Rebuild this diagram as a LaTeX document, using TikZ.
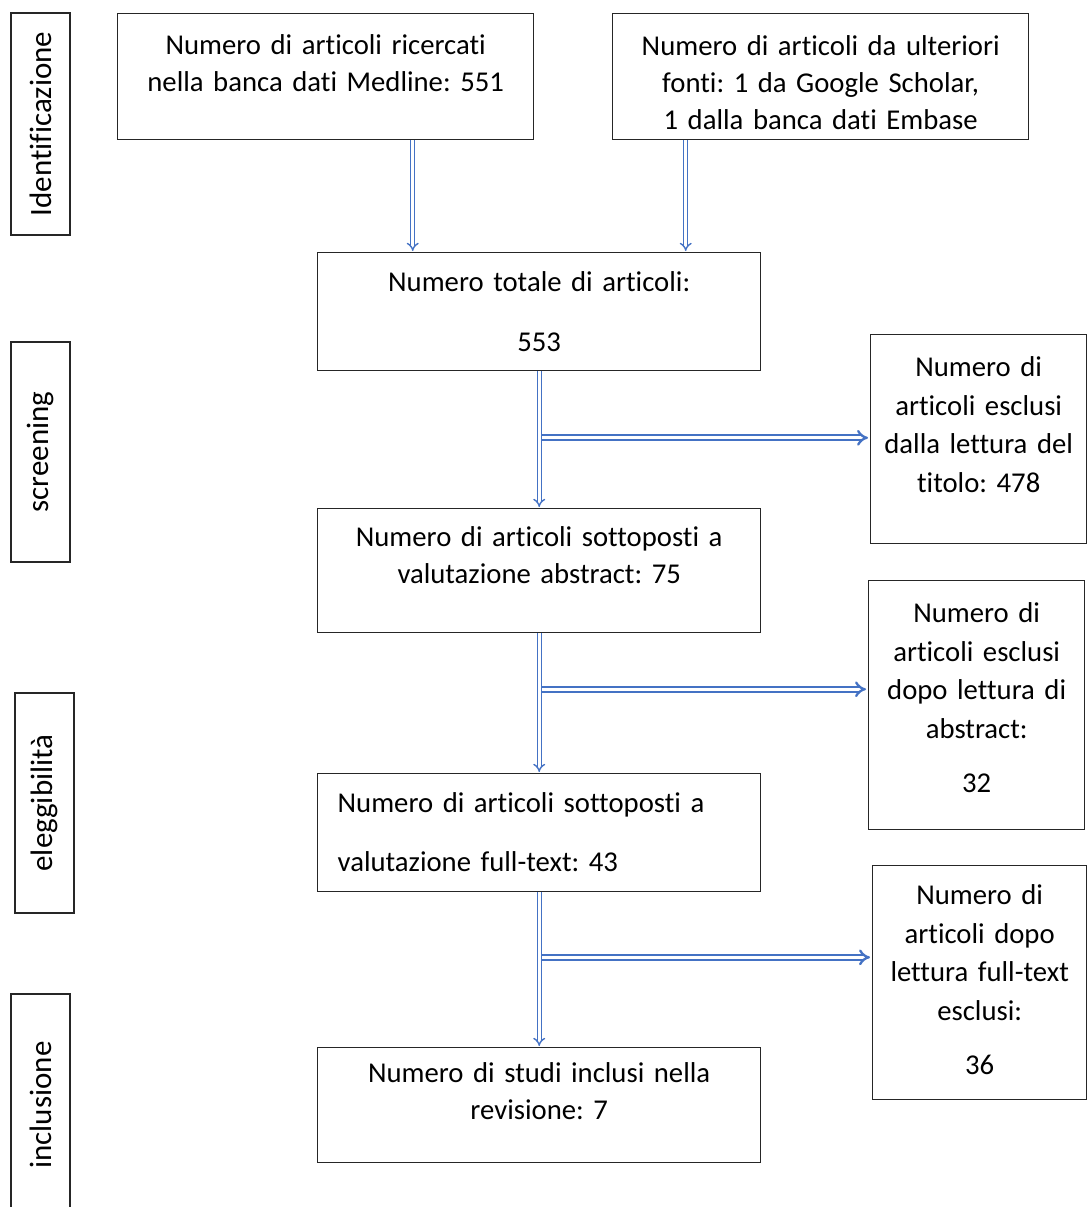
\documentclass[tikz,border=0pt]{standalone}
\usepackage{fontspec}
\setmainfont{Carlito}[Ligatures=CommonOff]
\frenchspacing
\usetikzlibrary{arrows.meta,calc,positioning}
\definecolor{ink}{HTML}{000000}
\definecolor{frame}{HTML}{262626}
\definecolor{arrowblue}{HTML}{4472C4}
\newcommand{\boxfont}{\fontsize{28.7}{37}\selectfont}
\newcommand{\sidefont}{\fontsize{28.7}{38.5}\selectfont}
\newcommand{\phasefont}{\fontsize{31}{36}\selectfont}
\tikzset{
 every node/.append style={font=\boxfont,text=ink,align=center},
 box/.style={draw=frame,line width=1.4pt,inner xsep=6pt,inner ysep=0pt,anchor=north west},
 side/.style={box,font=\sidefont},
 phase/.style={draw=frame,line width=1.2pt,inner sep=0pt,minimum height=59pt,rotate=90,font=\phasefont},
 flow/.style={draw=arrowblue,line width=1.4pt,double=white,double distance=2.6pt,-{Implies[length=5pt,width=12pt]},shorten >=1pt},
 exclude/.style={draw=arrowblue,line width=2.3pt,double=white,double distance=2.8pt,-{Implies[length=5pt,width=14pt]},shorten >=2pt},
}

\begin{document}
\begin{tikzpicture}[x=1pt,y=-1pt]
\useasboundingbox (0,0) rectangle (1088,1207);

% fasi
\node[phase,minimum width=222pt] (fid) at (40.5,124) {Identificazione};
\node[phase,minimum width=220pt] (fscr) at (40.5,452) {screening};
\node[phase,minimum width=220pt] (fel) at (44.5,803) {eleggibilità};
\node[phase,minimum width=222pt] (finc) at (40.5,1105) {inclusione};

% colonna centrale
\node[box,text width=404pt,text height=41pt,text depth=85pt] (medline) at (117,13)
  {Numero di articoli ricercati\\nella banca dati Medline: 551};
\node[box,text width=404pt,text height=42pt,text depth=84pt] (fonti) at (612,13)
  {Numero di articoli da ulteriori\\fonti: 1 da Google Scholar,\\1 dalla banca dati Embase};
\node[box,text width=431pt,text height=39pt,text depth=79pt] (totale) at (317,252)
  {Numero totale di articoli:\\[23pt]553};
\node[box,text width=431pt,text height=38pt,text depth=86pt] (abstract) at (317,508)
  {Numero di articoli sottoposti a\\valutazione abstract: 75};
\node[box,align=left,inner xsep=20pt,text width=403pt,text height=39pt,text depth=79pt] (fulltext) at (317,773)
  {Numero di articoli sottoposti a\\[22pt]valutazione full-text: 43};
\node[box,text width=431pt,text height=35pt,text depth=80pt] (inclusi) at (317,1047)
  {Numero di studi inclusi nella\\revisione: 7};

% esclusi
\node[side,text width=204pt,text height=42pt,text depth=167pt] (extitolo) at (870,334)
  {Numero di\\articoli esclusi\\dalla lettura del\\titolo: 478};
\node[side,text width=204pt,text height=42pt,text depth=207pt] (exabstract) at (868,580)
  {Numero di\\articoli esclusi\\dopo lettura di\\abstract:\\[16pt]32};
\node[side,text width=202pt,text height=39pt,text depth=195pt] (exfull) at (872,865)
  {Numero di\\articoli dopo\\lettura full-text\\esclusi:\\[16pt]36};

% frecce
\draw[flow] ([xshift=87pt]medline.south) -- ([xshift=87pt]medline.south |- totale.north);
\draw[flow] ([xshift=-135pt]fonti.south) -- ([xshift=-135pt]fonti.south |- totale.north);
\draw[flow] (totale.south) -- coordinate[pos=.486] (j1) (abstract.north);
\draw[flow] (abstract.south) -- coordinate[pos=.40] (j2) (fulltext.north);
\draw[flow] (fulltext.south) -- coordinate[pos=.42] (j3) (inclusi.north);
\draw[exclude] ([xshift=3pt]j1) -- (extitolo.west |- j1);
\draw[exclude] ([xshift=3pt]j2) -- (exabstract.west |- j2);
\draw[exclude] ([xshift=3pt]j3) -- (exfull.west |- j3);
\end{tikzpicture}
\end{document}
